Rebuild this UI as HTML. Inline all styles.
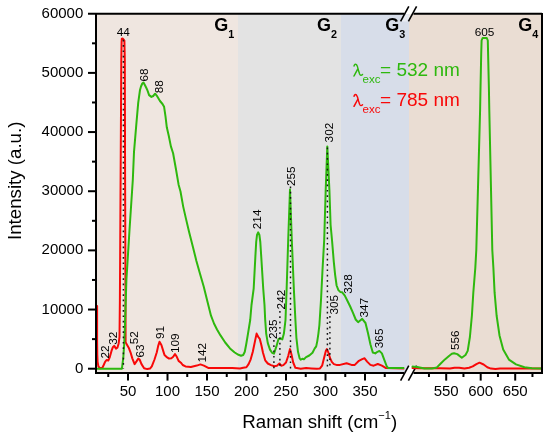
<!DOCTYPE html>
<html><head><meta charset="utf-8"><style>
html,body{margin:0;padding:0;background:#fff;}
body{width:550px;height:439px;overflow:hidden;font-family:"Liberation Sans",sans-serif;}
svg{display:block;will-change:transform;}
</style></head><body>
<svg width="550" height="439" viewBox="0 0 550 439"><defs><clipPath id="cl"><rect x="97" y="14.7" width="307.3" height="357.3"/></clipPath><clipPath id="cr"><rect x="411" y="14.7" width="130" height="357.3"/></clipPath><clipPath id="cp"><rect x="97" y="14.7" width="444" height="357.3"/></clipPath></defs><rect x="97" y="14" width="141" height="358" fill="#EFE6E0"/><rect x="238" y="14" width="103" height="358" fill="#E3E3E3"/><rect x="341" y="14" width="68" height="358" fill="#D7DDE9"/><rect x="409" y="14" width="132" height="358" fill="#EADDD3"/><polygon points="400.6,21.4 408.8,6.4 416.6,6.4 408.4,21.4" fill="#fff" fill-opacity="0.45"/><polygon points="400.6,380.6 408.8,365.6 416.6,365.6 408.4,380.6" fill="#fff" fill-opacity="1"/><g stroke="#000" stroke-width="1.6"><line x1="400.6" y1="21.4" x2="408.8" y2="6.4"/><line x1="408.4" y1="21.4" x2="416.6" y2="6.4"/><line x1="400.6" y1="380.6" x2="408.8" y2="365.6"/><line x1="408.4" y1="380.6" x2="416.6" y2="365.6"/></g><g fill="none" stroke-width="2" stroke-linejoin="round" stroke-linecap="round"><polyline clip-path="url(#cl)" stroke="#F80808" points="97.1,305.9 97.1,340.0 97.3,355.0 97.6,362.0 98.4,366.5 100.0,368.2 102.4,367.7 103.7,365.0 105.1,361.8 106.5,360.0 108.3,360.5 109.6,357.7 111.5,350.9 112.8,347.3 114.2,345.9 116.0,348.6 117.4,347.7 118.7,343.2 119.5,336.8 119.9,300.0 120.6,180.0 121.3,60.0 121.6,42.0 121.8,38.7 122.8,38.5 124.4,40.6 124.8,60.0 125.1,180.0 125.5,300.0 125.6,342.3 127.4,345.5 128.7,347.7 130.5,352.3 132.4,358.6 134.6,364.1 136.5,361.4 138.3,358.6 139.6,359.5 141.5,364.1 144.1,368.2 147.3,369.1 150.0,368.6 151.8,366.4 154.5,359.5 156.8,352.3 158.2,345.9 159.5,341.8 161.4,345.0 163.2,350.9 164.5,355.0 166.4,356.8 169.1,358.6 171.4,358.2 173.2,356.8 175.0,354.1 176.8,356.8 178.6,360.9 180.9,362.7 182.7,365.0 185.5,366.4 190.9,366.9 196.8,365.6 200.4,364.4 203.9,365.6 208.7,368.1 220.5,367.9 232.3,367.9 240.0,368.4 243.2,367.8 246.4,367.3 248.6,364.1 250.7,359.3 252.8,351.8 255.0,341.1 256.6,333.6 258.2,336.8 259.8,338.9 261.4,345.3 263.0,352.8 265.2,360.3 267.8,363.5 271.0,365.1 274.3,366.2 276.9,365.7 279.4,363.5 281.2,365.7 283.4,365.1 286.0,362.5 288.2,356.0 290.0,349.1 291.6,355.0 293.2,362.5 295.4,367.8 300.7,368.7 306.1,368.1 311.4,368.4 316.8,368.7 320.0,368.4 322.1,365.7 324.3,357.1 325.9,350.7 326.9,349.1 328.5,352.8 330.1,358.2 331.8,361.9 333.9,364.1 337.1,365.1 340.0,364.9 346.6,363.2 351.5,364.9 354.8,364.9 358.9,360.8 362.2,359.1 364.6,358.3 367.1,361.6 370.4,364.9 373.7,365.7 377.8,364.0 381.9,365.7 386.0,368.1 404.0,368.6"/><polyline clip-path="url(#cr)" stroke="#F80808" points="412.5,368.1 420.0,368.3 430.0,368.3 440.0,368.2 450.0,368.6 454.5,367.7 459.1,367.7 464.5,368.6 469.1,367.7 472.7,366.4 476.4,364.1 479.5,362.7 483.6,364.5 487.3,367.3 490.9,368.6 495.5,369.1 500.0,368.6 541.0,368.6"/><polyline clip-path="url(#cl)" stroke="#2EB80E" points="97.0,368.7 121.9,368.7 123.3,357.7 124.2,344.1 124.8,330.0 126.4,280.0 129.5,230.0 132.8,180.0 134.0,152.0 136.3,124.6 138.2,102.8 139.1,96.4 140.0,90.0 141.0,86.5 142.3,83.5 143.5,82.5 144.6,84.5 146.0,87.3 147.3,90.0 149.1,95.1 151.4,96.9 153.2,96.0 155.1,93.7 157.3,96.4 160.0,101.0 162.5,104.0 164.1,106.8 165.5,116.4 166.8,127.3 168.7,135.5 170.9,146.4 173.1,153.3 175.8,168.3 178.6,184.7 180.5,191.5 183.2,206.6 186.0,218.9 189.1,231.9 192.8,246.4 196.4,261.0 200.0,273.8 203.7,286.5 207.3,301.0 211.0,315.7 214.0,323.5 217.0,329.5 220.5,335.4 225.2,342.5 230.0,348.4 234.7,352.5 238.5,354.8 241.0,355.8 243.2,355.0 244.8,351.8 246.4,343.2 248.0,333.6 250.2,320.0 251.5,305.0 253.7,288.3 255.4,256.0 256.2,242.0 257.0,235.0 258.2,232.3 259.4,235.0 260.3,242.0 261.2,256.0 263.2,288.3 264.5,305.0 265.2,320.0 266.2,333.6 267.8,343.2 270.0,349.6 272.1,352.8 274.0,353.6 276.4,346.4 278.5,338.9 280.7,338.4 282.3,339.5 283.9,333.6 285.5,320.0 286.6,290.0 288.2,240.0 290.0,189.5 291.8,240.0 293.9,290.0 295.4,320.0 296.4,337.8 298.0,351.8 299.6,358.2 300.7,359.8 302.3,358.7 303.9,359.3 306.1,357.1 309.3,355.5 312.5,352.8 314.6,348.6 316.2,346.4 317.3,341.1 318.4,333.6 319.4,325.0 321.0,300.0 322.5,270.0 324.2,240.0 325.7,190.0 327.3,146.4 329.4,190.0 330.6,225.0 332.0,240.0 332.9,250.9 333.8,261.9 335.1,274.6 336.6,285.5 338.4,290.1 340.2,291.9 342.0,292.2 344.8,295.6 347.5,301.0 350.2,306.5 353.0,312.9 355.7,319.5 358.1,322.2 360.2,320.5 362.2,318.9 365.5,323.0 367.9,332.8 370.4,344.3 372.8,352.5 375.3,353.4 377.5,351.8 379.4,350.9 381.9,353.4 384.3,359.9 386.8,366.5 388.4,368.1 404.0,368.1"/><polyline clip-path="url(#cr)" stroke="#2EB80E" points="412.5,366.6 417.3,367.0 424.5,368.4 431.8,368.4 436.9,367.4 440.5,363.7 444.9,359.4 449.3,355.7 451.8,353.8 454.1,353.2 457.3,354.1 461.8,357.7 465.5,355.0 467.7,350.9 469.9,337.0 471.9,315.5 473.3,292.7 475.3,268.0 476.3,250.0 478.2,180.0 480.1,110.0 480.5,88.3 481.2,54.2 481.6,40.5 482.6,38.0 486.8,38.0 487.8,40.5 488.1,54.0 488.9,88.0 489.3,110.0 490.8,180.0 492.3,250.0 493.4,268.0 494.6,292.7 496.6,315.5 499.5,335.4 503.2,349.6 508.9,359.6 516.0,364.4 524.5,367.3 532.0,368.3 541.0,368.5"/></g><line x1="123.4" y1="39.8" x2="123.4" y2="369" stroke="#151515" stroke-width="1.45" stroke-dasharray="1.7 3.6"/><line x1="273.9" y1="340" x2="273.9" y2="369" stroke="#151515" stroke-width="1.45" stroke-dasharray="1.7 3.6"/><line x1="279.9" y1="311" x2="279.9" y2="369" stroke="#151515" stroke-width="1.45" stroke-dasharray="1.7 3.6"/><line x1="290.5" y1="186.5" x2="290.5" y2="369" stroke="#151515" stroke-width="1.45" stroke-dasharray="1.7 3.6"/><line x1="327.4" y1="147.5" x2="327.4" y2="369" stroke="#151515" stroke-width="1.45" stroke-dasharray="1.7 3.6"/><line x1="329.9" y1="316" x2="329.9" y2="369" stroke="#151515" stroke-width="1.45" stroke-dasharray="1.7 3.6"/><g stroke="#000" stroke-width="2" fill="none"><line x1="96" y1="12.9" x2="96" y2="374"/><line x1="542" y1="12.9" x2="542" y2="374"/><line x1="96" y1="13.8" x2="404" y2="13.8"/><line x1="413.5" y1="13.8" x2="542" y2="13.8"/><line x1="96" y1="373" x2="404" y2="373"/><line x1="413.5" y1="373" x2="542" y2="373"/></g><g stroke="#000" stroke-width="2"><line x1="88" y1="368.70" x2="96" y2="368.70"/><line x1="88" y1="309.54" x2="96" y2="309.54"/><line x1="88" y1="250.38" x2="96" y2="250.38"/><line x1="88" y1="191.22" x2="96" y2="191.22"/><line x1="88" y1="132.06" x2="96" y2="132.06"/><line x1="88" y1="72.90" x2="96" y2="72.90"/><line x1="88" y1="13.74" x2="96" y2="13.74"/><line x1="92" y1="339.12" x2="96" y2="339.12"/><line x1="92" y1="279.96" x2="96" y2="279.96"/><line x1="92" y1="220.80" x2="96" y2="220.80"/><line x1="92" y1="161.64" x2="96" y2="161.64"/><line x1="92" y1="102.48" x2="96" y2="102.48"/><line x1="92" y1="43.32" x2="96" y2="43.32"/><line x1="128.00" y1="373" x2="128.00" y2="380.6"/><line x1="167.50" y1="373" x2="167.50" y2="380.6"/><line x1="207.00" y1="373" x2="207.00" y2="380.6"/><line x1="246.50" y1="373" x2="246.50" y2="380.6"/><line x1="286.00" y1="373" x2="286.00" y2="380.6"/><line x1="325.50" y1="373" x2="325.50" y2="380.6"/><line x1="365.00" y1="373" x2="365.00" y2="380.6"/><line x1="108.25" y1="373" x2="108.25" y2="377"/><line x1="147.75" y1="373" x2="147.75" y2="377"/><line x1="187.25" y1="373" x2="187.25" y2="377"/><line x1="226.75" y1="373" x2="226.75" y2="377"/><line x1="266.25" y1="373" x2="266.25" y2="377"/><line x1="305.75" y1="373" x2="305.75" y2="377"/><line x1="345.25" y1="373" x2="345.25" y2="377"/><line x1="384.75" y1="373" x2="384.75" y2="377"/><line x1="446.20" y1="373" x2="446.20" y2="380.6"/><line x1="480.70" y1="373" x2="480.70" y2="380.6"/><line x1="515.20" y1="373" x2="515.20" y2="380.6"/><line x1="428.95" y1="373" x2="428.95" y2="377"/><line x1="463.45" y1="373" x2="463.45" y2="377"/><line x1="497.95" y1="373" x2="497.95" y2="377"/><line x1="532.45" y1="373" x2="532.45" y2="377"/></g><g font-family="Liberation Sans, sans-serif" font-size="15" text-anchor="end" fill="#000"><text x="83.3" y="372.80">0</text><text x="83.3" y="313.64">10000</text><text x="83.3" y="254.48">20000</text><text x="83.3" y="195.32">30000</text><text x="83.3" y="136.16">40000</text><text x="83.3" y="77.00">50000</text><text x="83.3" y="17.84">60000</text></g><g font-family="Liberation Sans, sans-serif" font-size="15" text-anchor="middle" fill="#000"><text x="128.00" y="396.4">50</text><text x="167.50" y="396.4">100</text><text x="207.00" y="396.4">150</text><text x="246.50" y="396.4">200</text><text x="286.00" y="396.4">250</text><text x="325.50" y="396.4">300</text><text x="365.00" y="396.4">350</text><text x="446.20" y="396.4">550</text><text x="480.70" y="396.4">600</text><text x="515.20" y="396.4">650</text></g><text font-family="Liberation Sans, sans-serif" font-size="18.7" x="242.3" y="428.2">Raman shift (cm<tspan font-size="11" dy="-9.3">&#8722;1</tspan><tspan dy="9.3">)</tspan></text><text font-family="Liberation Sans, sans-serif" font-size="18.7" text-anchor="middle" transform="translate(21.2,180.8) rotate(-90)">Intensity (a.u.)</text><text font-family="Liberation Sans, sans-serif" font-weight="bold" font-size="18" x="214.3" y="31.2">G<tspan font-size="10.8" dy="6.4">1</tspan></text><text font-family="Liberation Sans, sans-serif" font-weight="bold" font-size="18" x="317.0" y="31.2">G<tspan font-size="10.8" dy="6.4">2</tspan></text><text font-family="Liberation Sans, sans-serif" font-weight="bold" font-size="18" x="385.2" y="31.2">G<tspan font-size="10.8" dy="6.4">3</tspan></text><text font-family="Liberation Sans, sans-serif" font-weight="bold" font-size="18" x="518.2" y="31.2">G<tspan font-size="10.8" dy="6.4">4</tspan></text><g transform="translate(0,0)"><path d="M354.0,66.0 Q354.8,63.6 356.4,64.6 Q357.5,65.8 358.4,70.3 L359.6,74.0 Q360.7,76.4 362.5,74.4" fill="none" stroke="#2EB80E" stroke-width="1.45" stroke-linecap="round"/><path d="M357.7,69.2 L354.0,76.0" fill="none" stroke="#2EB80E" stroke-width="1.55" stroke-linecap="round"/><text font-family="Liberation Sans, sans-serif" fill="#2EB80E" font-size="11.5" x="362.6" y="82.7">exc</text><text font-family="Liberation Sans, sans-serif" fill="#2EB80E" font-size="19" x="380.1" y="76.2">= 532 nm</text></g><g transform="translate(0,30.3)"><path d="M354.0,66.0 Q354.8,63.6 356.4,64.6 Q357.5,65.8 358.4,70.3 L359.6,74.0 Q360.7,76.4 362.5,74.4" fill="none" stroke="#F80808" stroke-width="1.45" stroke-linecap="round"/><path d="M357.7,69.2 L354.0,76.0" fill="none" stroke="#F80808" stroke-width="1.55" stroke-linecap="round"/><text font-family="Liberation Sans, sans-serif" fill="#F80808" font-size="11.5" x="362.6" y="82.7">exc</text><text font-family="Liberation Sans, sans-serif" fill="#F80808" font-size="19" x="380.1" y="76.2">= 785 nm</text></g><text font-family="Liberation Sans, sans-serif" font-size="11.8" fill="#000" text-anchor="middle" x="123.2" y="36.3">44</text><text font-family="Liberation Sans, sans-serif" font-size="11.8" fill="#000" text-anchor="middle" x="484.6" y="35.7">605</text><text font-family="Liberation Sans, sans-serif" font-size="11.8" fill="#000" transform="translate(147.7,81.5) rotate(-90)">68</text><text font-family="Liberation Sans, sans-serif" font-size="11.8" fill="#000" transform="translate(162.7,93.3) rotate(-90)">88</text><text font-family="Liberation Sans, sans-serif" font-size="11.8" fill="#000" transform="translate(261.0,229.2) rotate(-90)">214</text><text font-family="Liberation Sans, sans-serif" font-size="11.8" fill="#000" transform="translate(277.1,339.0) rotate(-90)">235</text><text font-family="Liberation Sans, sans-serif" font-size="11.8" fill="#000" transform="translate(284.6,309.4) rotate(-90)">242</text><text font-family="Liberation Sans, sans-serif" font-size="11.8" fill="#000" transform="translate(295.0,186.1) rotate(-90)">255</text><text font-family="Liberation Sans, sans-serif" font-size="11.8" fill="#000" transform="translate(333.0,142.4) rotate(-90)">302</text><text font-family="Liberation Sans, sans-serif" font-size="11.8" fill="#000" transform="translate(338.0,314.5) rotate(-90)">305</text><text font-family="Liberation Sans, sans-serif" font-size="11.8" fill="#000" transform="translate(352.1,293.8) rotate(-90)">328</text><text font-family="Liberation Sans, sans-serif" font-size="11.8" fill="#000" transform="translate(368.4,317.5) rotate(-90)">347</text><text font-family="Liberation Sans, sans-serif" font-size="11.8" fill="#000" transform="translate(383.4,348.2) rotate(-90)">365</text><text font-family="Liberation Sans, sans-serif" font-size="11.8" fill="#000" transform="translate(459.3,350.1) rotate(-90)">556</text><text font-family="Liberation Sans, sans-serif" font-size="11.8" fill="#000" transform="translate(108.9,358.5) rotate(-90)">22</text><text font-family="Liberation Sans, sans-serif" font-size="11.8" fill="#000" transform="translate(117.2,344.8) rotate(-90)">32</text><text font-family="Liberation Sans, sans-serif" font-size="11.8" fill="#000" transform="translate(137.8,344.2) rotate(-90)">52</text><text font-family="Liberation Sans, sans-serif" font-size="11.8" fill="#000" transform="translate(143.5,357.6) rotate(-90)">63</text><text font-family="Liberation Sans, sans-serif" font-size="11.8" fill="#000" transform="translate(164.1,339.0) rotate(-90)">91</text><text font-family="Liberation Sans, sans-serif" font-size="11.8" fill="#000" transform="translate(178.9,353.0) rotate(-90)">109</text><text font-family="Liberation Sans, sans-serif" font-size="11.8" fill="#000" transform="translate(206.4,362.5) rotate(-90)">142</text></svg>
</body></html>
